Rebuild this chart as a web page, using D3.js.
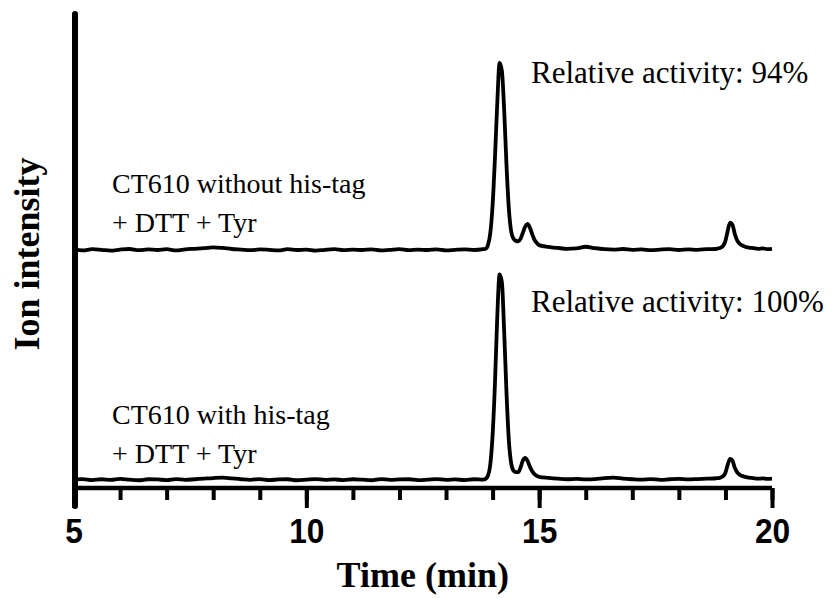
<!DOCTYPE html>
<html>
<head>
<meta charset="utf-8">
<script src="https://cdn.jsdelivr.net/npm/d3@7"></script>
<style>
  body { margin: 0; background: #fff; }
  svg { display: block; }
  .serif { font-family: "Liberation Serif", "Times New Roman", serif; }
</style>
</head>
<body>
<svg id="chrom" width="838" height="598"></svg>
<script>
// ----------------------- DATA -------------------------------
// retention time (min), shared by both traces
var time = [
  5.0, 5.2, 5.4, 5.6, 5.8, 6.0, 6.2, 6.4, 6.6, 6.8, 7.0, 7.2, 7.4, 7.6, 7.8,
  8.0, 8.2, 8.4, 8.6, 8.8, 9.0, 9.2, 9.4, 9.6, 9.8, 10.0, 10.2, 10.4, 10.6, 10.8,
  11.0, 11.2, 11.4, 11.6, 11.8, 12.0, 12.2, 12.4, 12.6, 12.8, 13.0, 13.2, 13.4, 13.6, 13.8,
  13.85, 13.9, 13.95, 14.0, 14.05, 14.1, 14.15, 14.2, 14.25, 14.3, 14.35, 14.4,
  14.45, 14.5, 14.55, 14.6, 14.65, 14.7, 14.75, 14.8, 14.85, 14.9, 14.95, 15.0,
  15.2, 15.4, 15.6, 15.8, 16.0, 16.2, 16.4, 16.6, 16.8, 17.0, 17.2, 17.4, 17.6, 17.8, 18.0,
  18.2, 18.4, 18.6, 18.8,
  18.85, 18.9, 18.95, 19.0, 19.05, 19.1, 19.15, 19.2, 19.25, 19.3, 19.35, 19.4, 19.45, 19.5,
  19.6, 19.7, 19.8, 19.9, 20.0
];

// ion intensity (a.u.), CT610 without his-tag
var withoutTag = [
  0.3, -0.2, 0.4, 0.1, -0.3, 0.2, 0.5, -0.1, 0.3, 0.0, 0.4, -0.2, 0.3, 0.6, 0.9,
  1.3, 1.0, 0.5, 0.2, -0.1, 0.3, 0.1, -0.2, 0.4, 0.0, 0.2, -0.3, 0.1, 0.4, -0.1,
  0.2, 0.0, 0.3, -0.2, 0.1, 0.4, -0.1, 0.2, 0.0, 0.3, -0.2, 0.1, 0.3, 0.0, 0.4,
  0.6, 2.4, 8.2, 22, 45, 72, 92, 88, 68, 41, 20, 9,
  5.5, 4.5, 4.3, 5.5, 8.5, 11.5, 12.8, 11, 7.8, 5.0, 3.4, 2.4,
  1.5, 1.0, 0.6, 0.8, 1.6, 0.9, 0.4, 0.2, 0.5, 0.1, 0.3, -0.1, 0.2, 0.4, 0.0,
  0.3, 0.1, 0.4, 0.5,
  0.8, 1.2, 2.0, 4.5, 9.5, 13.5, 12.5, 8.0, 4.8, 3.2, 2.4, 1.8, 1.4, 1.2,
  0.9, 0.6, 0.8, 0.4, 0.6
];

// ion intensity (a.u.), CT610 with his-tag
var withTag = [
  0.2, 0.4, -0.1, 0.3, 0.0, 0.5, 0.1, -0.2, 0.3, 0.2, -0.1, 0.4, 0.0, 0.3, 0.6,
  0.9, 1.1, 0.7, 0.3, 0.0, 0.4, -0.1, 0.2, 0.3, -0.2, 0.1, 0.4, 0.0, 0.2, -0.1,
  0.3, 0.1, -0.2, 0.4, 0.0, 0.2, 0.3, -0.1, 0.1, 0.4, 0.0, 0.2, -0.1, 0.3, 0.1,
  0.5, 2.0, 7.5, 22, 47, 80, 101, 97, 72, 42, 19, 8,
  4.5, 3.8, 3.8, 6.0, 9.5, 10.8, 9.3, 6.5, 4.2, 2.8, 2.0, 1.5,
  1.0, 0.6, 0.3, 0.5, 0.2, 0.4, 0.9, 1.1, 0.6, 0.3, 0.1, 0.4, 0.0, 0.3, 0.5,
  0.2, 0.4, 0.6, 0.8,
  0.9, 1.2, 1.8, 3.5, 7.5, 10.3, 9.5, 6.0, 3.8, 2.6, 2.0, 1.6, 1.3, 1.1,
  0.8, 0.6, 0.7, 0.5, 0.6
];

var majorTicks = [5, 10, 15, 20];
var minorTicks = [5, 6, 7, 8, 9, 10, 11, 12, 13, 14, 15, 16, 17, 18, 19, 20];

var sampleLabels = [
  ["CT610 without his-tag", "+ DTT + Tyr"],
  ["CT610 with his-tag", "+ DTT + Tyr"]
];
var activityLabels = ["Relative activity: 94%", "Relative activity: 100%"];

// ----------------------- CHART -------------------------------
var svg = d3.select("#chrom");

var x = d3.scaleLinear()
    .domain([5, 20])
    .range([73.5, 772]);

var y = d3.scaleLinear()
    .domain([-4, 230])
    .range([488, 12]);

var stackOffset = 113;   // vertical shift of the upper trace

var line = d3.line()
    .x(function(d) { return x(d[0]); })
    .y(function(d) { return y(d[1]); })
    .curve(d3.curveMonotoneX);

var traces = [
  {values: withoutTag, offset: stackOffset},
  {values: withTag, offset: 0}
];

svg.append("g")
  .selectAll("path")
  .data(traces)
  .enter().append("path")
    .attr("fill", "none")
    .attr("stroke", "#000")
    .attr("stroke-width", 3.8)
    .attr("stroke-linejoin", "round")
    .attr("d", function(t) {
      return line(time.map(function(tm, i) { return [tm, t.values[i] + t.offset]; }));
    });

// x axis: minor ticks, then major ticks with labels
var axisY = 488;

svg.append("g")
    .attr("transform", "translate(0," + axisY + ")")
    .call(d3.axisBottom(x).tickValues(minorTicks).tickSize(12).tickFormat(""))
    .call(function(g) {
      g.select(".domain").attr("stroke-width", 4.5).attr("d", "M" + x(5) + ",0H" + x(20));
      g.selectAll(".tick line").attr("stroke-width", 4);
    });

svg.append("g")
    .attr("transform", "translate(0," + axisY + ")")
    .call(d3.axisBottom(x).tickValues(majorTicks).tickSize(20).tickPadding(8)
      .tickFormat(d3.format("d")))
    .call(function(g) {
      g.select(".domain").remove();
      g.selectAll(".tick line").attr("stroke-width", 4);
      g.selectAll(".tick text")
        .attr("fill", "#000")
        .attr("dy", null)
        .attr("y", 55)
        .attr("transform", "scale(0.88,1)")
        .style("font-family", "'Liberation Sans', Arial, sans-serif")
        .style("font-weight", "bold")
        .style("font-size", "36px");
    });

// y axis line (no ticks)
svg.append("line")
    .attr("x1", 75).attr("x2", 75)
    .attr("y1", 14).attr("y2", 506)
    .attr("stroke", "#000")
    .attr("stroke-width", 6)
    .attr("stroke-linecap", "round");

// axis titles
svg.append("text")
    .attr("class", "serif")
    .attr("x", x(12.5))
    .attr("y", 587)
    .attr("text-anchor", "middle")
    .style("font-weight", "bold")
    .style("font-size", "36px")
    .text("Time (min)");

svg.append("text")
    .attr("class", "serif")
    .attr("transform", "translate(39,254) rotate(-90)")
    .attr("text-anchor", "middle")
    .style("font-weight", "bold")
    .style("font-size", "36px")
    .text("Ion intensity");

// sample labels
var labelTop = [193, 424];
sampleLabels.forEach(function(lines, k) {
  svg.append("g")
      .attr("class", "serif")
      .style("font-size", "28px")
    .selectAll("text")
    .data(lines)
    .enter().append("text")
      .attr("x", 112)
      .attr("y", function(d, i) { return labelTop[k] + i * 39; })
      .text(function(d) { return d; });
});

svg.append("g")
    .attr("class", "serif")
    .style("font-size", "31px")
  .selectAll("text")
  .data(activityLabels)
  .enter().append("text")
    .attr("x", 531)
    .attr("y", function(d, i) { return [83, 312][i]; })
    .text(function(d) { return d; });
</script>
</body>
</html>
